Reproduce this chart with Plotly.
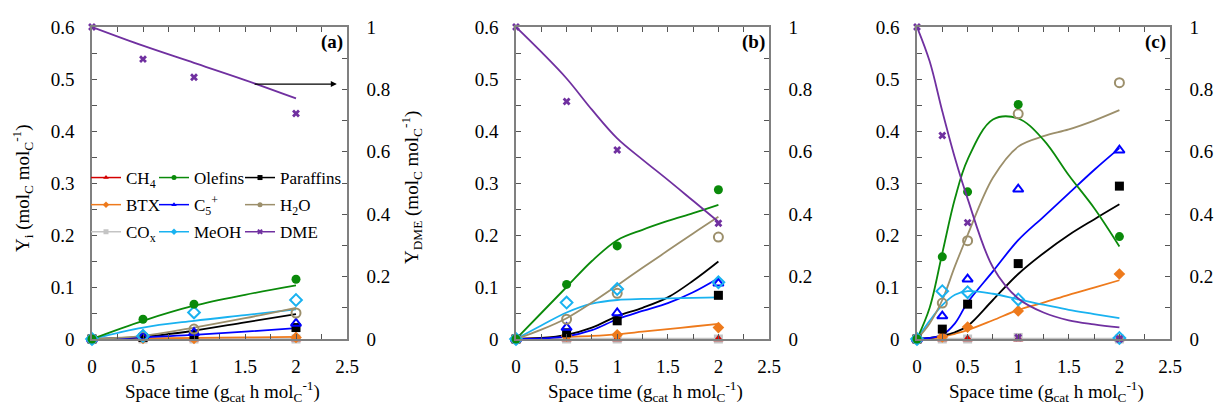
import plotly.graph_objects as go

W, H = 1221, 407
FONT = "Liberation Serif, Times New Roman, DejaVu Serif, serif"

# ---------------- species / styles ----------------
SPECIES = ["CH4", "Olefins", "Paraffins", "BTX", "C5+", "H2O", "COx", "MeOH", "DME"]
LABELS = {"CH4": "CH<sub>4</sub>", "Olefins": "Olefins", "Paraffins": "Paraffins",
          "BTX": "BTX", "C5+": "C<sub>5</sub><sup>+</sup>", "H2O": "H<sub>2</sub>O",
          "COx": "CO<sub>x</sub>", "MeOH": "MeOH", "DME": "DME"}
COLORS = {"CH4": "#d40000", "Olefins": "#0a8a0a", "Paraffins": "#000000",
          "BTX": "#ee7a1c", "C5+": "#0000ff", "H2O": "#9c8f6b",
          "COx": "#c4c4c4", "MeOH": "#19b2f0", "DME": "#7030a0"}
SYMBOLS = {"CH4": "triangle-up", "Olefins": "circle", "Paraffins": "square",
           "BTX": "diamond", "C5+": "triangle-up-open", "H2O": "circle-open",
           "COx": "square", "MeOH": "diamond-open", "DME": "x"}

# ---------------- panel (a) ----------------
A_T_EXP = [0, 0.5, 1, 2]
A_CH4_EXP = [0, 0, 0, 0]
A_OLEF_EXP = [0, 0.038, 0.067, 0.115]
A_PARA_EXP = [0, 0.003, 0.008, 0.022]
A_BTX_EXP = [0, 0.001, 0.001, 0.003]
A_C5_EXP = [0, 0.004, 0.012, 0.030]
A_H2O_EXP = [0, 0.005, 0.019, 0.050]
A_COX_EXP = [0, 0, 0, 0]
A_MEOH_EXP = [0, 0.006, 0.051, 0.075]
A_DME_EXP = [1.0, 0.897, 0.839, 0.723]

A_T_MOD = [0, 0.5, 1, 1.5, 2]
A_CH4_MOD = [0, 0, 0, 0, 0]
A_OLEF_MOD = [0, 0.035, 0.064, 0.085, 0.103]
A_PARA_MOD = [0, 0.004, 0.016, 0.032, 0.048]
A_BTX_MOD = [0, 0.001, 0.002, 0.003, 0.004]
A_C5_MOD = [0, 0.003, 0.008, 0.014, 0.021]
A_H2O_MOD = [0, 0.006, 0.022, 0.040, 0.060]
A_COX_MOD = [0, 0, 0, 0, 0]
A_MEOH_MOD = [0, 0.022, 0.035, 0.046, 0.057]
A_DME_MOD = [1.0, 0.94, 0.885, 0.83, 0.771]

# ---------------- panel (b) ----------------
B_T_EXP = [0, 0.5, 1, 2]
B_CH4_EXP = [0, 0, 0, 0]
B_OLEF_EXP = [0, 0.105, 0.179, 0.287]
B_PARA_EXP = [0, 0.012, 0.035, 0.084]
B_BTX_EXP = [0, 0.006, 0.008, 0.022]
B_C5_EXP = [0, 0.022, 0.050, 0.107]
B_H2O_EXP = [0, 0.038, 0.088, 0.196]
B_COX_EXP = [0, 0, 0, 0]
B_MEOH_EXP = [0, 0.070, 0.096, 0.109]
B_DME_EXP = [1.0, 0.761, 0.606, 0.371]

B_T_MOD = [0, 0.25, 0.5, 0.75, 1, 1.25, 1.5, 1.75, 2]
B_CH4_MOD = [0, 0, 0, 0, 0, 0, 0, 0, 0]
B_OLEF_MOD = [0, 0.05, 0.10, 0.15, 0.19, 0.21, 0.227, 0.242, 0.258]
B_PARA_MOD = [0, 0.002, 0.008, 0.022, 0.044, 0.060, 0.080, 0.112, 0.149]
B_BTX_MOD = [0, 0.002, 0.004, 0.006, 0.009, 0.014, 0.019, 0.024, 0.029]
B_C5_MOD = [0, 0.001, 0.005, 0.017, 0.038, 0.054, 0.069, 0.090, 0.117]
B_H2O_MOD = [0, 0.018, 0.040, 0.070, 0.103, 0.137, 0.170, 0.203, 0.235]
B_COX_MOD = [0, 0, 0, 0, 0, 0, 0, 0, 0]
B_MEOH_MOD = [0, 0.026, 0.051, 0.068, 0.075, 0.077, 0.078, 0.079, 0.080]
B_DME_MOD = [1.0, 0.92, 0.835, 0.735, 0.643, 0.575, 0.51, 0.443, 0.376]

# ---------------- panel (c) ----------------
C_T_EXP = [0, 0.25, 0.5, 1, 2]
C_CH4_EXP = [0, 0, 0, 0, 0]
C_OLEF_EXP = [0, 0.158, 0.283, 0.451, 0.197]
C_PARA_EXP = [0, 0.019, 0.067, 0.145, 0.294]
C_BTX_EXP = [0, 0.004, 0.023, 0.054, 0.125]
C_C5_EXP = [0, 0.044, 0.115, 0.288, 0.363]
C_H2O_EXP = [0, 0.069, 0.189, 0.433, 0.493]
C_COX_EXP = [0, 0, 0, 0.003, 0]
C_MEOH_EXP = [0, 0.092, 0.090, 0.076, 0.002]
C_DME_EXP = [1.0, 0.652, 0.373, 0.005, 0]

C_T_MOD = [0, 0.125, 0.25, 0.375, 0.5, 0.75, 1, 1.25, 1.5, 1.75, 2]
C_CH4_MOD = [0] * 11
C_OLEF_MOD = [0, 0.06, 0.165, 0.27, 0.345, 0.422, 0.424, 0.383, 0.315, 0.252, 0.178]
C_PARA_MOD = [0, 0.002, 0.006, 0.013, 0.025, 0.075, 0.125, 0.165, 0.200, 0.230, 0.259]
C_BTX_MOD = [0, 0.001, 0.004, 0.010, 0.017, 0.036, 0.056, 0.070, 0.085, 0.099, 0.113]
C_C5_MOD = [0, 0.002, 0.008, 0.030, 0.070, 0.130, 0.190, 0.235, 0.280, 0.325, 0.367]
C_H2O_MOD = [0, 0.030, 0.075, 0.140, 0.200, 0.310, 0.370, 0.390, 0.403, 0.420, 0.440]
C_COX_MOD = [0] * 11
C_MEOH_MOD = [0, 0.035, 0.065, 0.085, 0.092, 0.087, 0.076, 0.066, 0.056, 0.048, 0.040]
C_DME_MOD = [1.0, 0.89, 0.73, 0.58, 0.45, 0.23, 0.13, 0.085, 0.06, 0.047, 0.037]

X_TICKS = [0, 0.5, 1, 1.5, 2, 2.5]
PANEL_LABELS = ["(a)", "(b)", "(c)"]

PANELS = [
    dict(t_exp=A_T_EXP, t_mod=A_T_MOD,
         exp={"CH4": A_CH4_EXP, "Olefins": A_OLEF_EXP, "Paraffins": A_PARA_EXP, "BTX": A_BTX_EXP,
              "C5+": A_C5_EXP, "H2O": A_H2O_EXP, "COx": A_COX_EXP, "MeOH": A_MEOH_EXP, "DME": A_DME_EXP},
         mod={"CH4": A_CH4_MOD, "Olefins": A_OLEF_MOD, "Paraffins": A_PARA_MOD, "BTX": A_BTX_MOD,
              "C5+": A_C5_MOD, "H2O": A_H2O_MOD, "COx": A_COX_MOD, "MeOH": A_MEOH_MOD, "DME": A_DME_MOD}),
    dict(t_exp=B_T_EXP, t_mod=B_T_MOD,
         exp={"CH4": B_CH4_EXP, "Olefins": B_OLEF_EXP, "Paraffins": B_PARA_EXP, "BTX": B_BTX_EXP,
              "C5+": B_C5_EXP, "H2O": B_H2O_EXP, "COx": B_COX_EXP, "MeOH": B_MEOH_EXP, "DME": B_DME_EXP},
         mod={"CH4": B_CH4_MOD, "Olefins": B_OLEF_MOD, "Paraffins": B_PARA_MOD, "BTX": B_BTX_MOD,
              "C5+": B_C5_MOD, "H2O": B_H2O_MOD, "COx": B_COX_MOD, "MeOH": B_MEOH_MOD, "DME": B_DME_MOD}),
    dict(t_exp=C_T_EXP, t_mod=C_T_MOD,
         exp={"CH4": C_CH4_EXP, "Olefins": C_OLEF_EXP, "Paraffins": C_PARA_EXP, "BTX": C_BTX_EXP,
              "C5+": C_C5_EXP, "H2O": C_H2O_EXP, "COx": C_COX_EXP, "MeOH": C_MEOH_EXP, "DME": C_DME_EXP},
         mod={"CH4": C_CH4_MOD, "Olefins": C_OLEF_MOD, "Paraffins": C_PARA_MOD, "BTX": C_BTX_MOD,
              "C5+": C_C5_MOD, "H2O": C_H2O_MOD, "COx": C_COX_MOD, "MeOH": C_MEOH_MOD, "DME": C_DME_MOD}),
]


def px(x):
    return x / W


def py(y):
    return (H - y) / H


# plot frames in pixels (left, right) and shared top/bottom
FRAMES = [(92, 347), (516, 769), (917, 1170)]
TOP, BOTTOM = 27, 339

fig = go.Figure()

LINE_ORDER = ["CH4", "COx", "BTX", "Paraffins", "C5+", "MeOH", "H2O", "Olefins", "DME"]
MARK_ORDER = ["COx", "CH4", "BTX", "Paraffins", "C5+", "H2O", "MeOH", "Olefins", "DME"]

for i, p in enumerate(PANELS):
    n = "" if i == 0 else str(2 * i + 1)
    n2 = str(2 * i + 2)
    xa = "x" + ("" if i == 0 else str(i + 1))
    ya_l = "y" + n
    ya_r = "y" + n2
    for s in LINE_ORDER:
        fig.add_trace(go.Scatter(
            x=p["t_mod"], y=p["mod"][s], mode="lines",
            line=dict(color=COLORS[s], width=2.4 if s == "COx" else 1.8, shape="spline", smoothing=1.0),
            xaxis=xa, yaxis=ya_r if s == "DME" else ya_l, showlegend=False, cliponaxis=False,
            hoverinfo="skip"))
    for s in MARK_ORDER:
        open_ = SYMBOLS[s].endswith("open")
        fig.add_trace(go.Scatter(
            x=p["t_exp"], y=p["exp"][s], mode="markers",
            marker=dict(symbol=SYMBOLS[s], color=COLORS[s],
                        size=9 if s != "DME" else 7,
                        line=dict(color=COLORS[s], width=2 if open_ else 0)),
            xaxis=xa, yaxis=ya_r if s == "DME" else ya_l, showlegend=False, cliponaxis=False))

# legend-only entries (three columns in panel a)
LEG_COLS = [["CH4", "BTX", "COx"], ["Olefins", "C5+", "MeOH"], ["Paraffins", "H2O", "DME"]]
for ci, col in enumerate(LEG_COLS):
    lname = "legend" if ci == 0 else "legend" + str(ci + 1)
    for s in col:
        fig.add_trace(go.Scatter(
            x=[None], y=[None], mode="lines+markers", name=LABELS[s],
            line=dict(color=COLORS[s], width=1.5),
            marker=dict(symbol=SYMBOLS[s].replace("-open", ""), color=COLORS[s], size=5),
            legend=lname, legendgroup=s, xaxis="x", yaxis="y"))

axis_common = dict(
    showline=True, linecolor="#808080", linewidth=1.5,
    ticks="inside", ticklen=5, tickcolor="#555555", tickwidth=1,
    showgrid=False, zeroline=False, automargin=False,
    tickfont=dict(family=FONT, size=19, color="black"),
)

layout = dict(
    width=W, height=H,
    margin=dict(l=0, r=0, t=0, b=0),
    paper_bgcolor="white", plot_bgcolor="rgba(0,0,0,0)",
    font=dict(family=FONT, size=18, color="black"),
)

annotations = []
for i, (l, r) in enumerate(FRAMES):
    sx = "" if i == 0 else str(i + 1)
    nl = "" if i == 0 else str(2 * i + 1)
    nr = str(2 * i + 2)
    layout["xaxis" + sx] = dict(
        axis_common, domain=[px(l), px(r)], range=[0, 2.5], tickvals=X_TICKS,
        minor=dict(dtick=0.25, ticks="inside", ticklen=5, tickcolor="#555555"),
        mirror="ticks", anchor="y" + nl, ticklabelstandoff=9)
    layout["yaxis" + nl] = dict(
        axis_common, domain=[py(BOTTOM), py(TOP)], range=[0, 0.6], dtick=0.1,
        minor=dict(dtick=0.05, ticks="inside", ticklen=5, tickcolor="#555555"),
        anchor="x" + sx, ticklabelstandoff=12)
    layout["yaxis" + nr] = dict(
        axis_common, domain=[py(BOTTOM), py(TOP)], range=[0, 1], dtick=0.2,
        minor=dict(dtick=0.1, ticks="inside", ticklen=5, tickcolor="#555555"),
        overlaying="y" + nl, side="right", anchor="x" + sx, ticklabelstandoff=14)
    annotations.append(dict(
        text="Space time (g<sub>cat</sub> h mol<sub>C</sub><sup>-1</sup>)",
        xref="paper", yref="paper", x=px((l + r) / 2 + 3), y=py(391),
        xanchor="center", yanchor="middle", showarrow=False,
        font=dict(family=FONT, size=19)))
    annotations.append(dict(
        text="<b>" + PANEL_LABELS[i] + "</b>", xref="paper", yref="paper",
        x=px(r - 2), y=py(42), xanchor="right", yanchor="middle", showarrow=False,
        font=dict(family=FONT, size=19)))

annotations.append(dict(
    text="Y<sub>i</sub> (mol<sub>C</sub> mol<sub>C</sub><sup>-1</sup>)", textangle=-90,
    xref="paper", yref="paper", x=px(22), y=py(188), xanchor="center", yanchor="middle",
    showarrow=False, font=dict(family=FONT, size=19)))
annotations.append(dict(
    text="Y<sub>DME</sub> (mol<sub>C</sub> mol<sub>C</sub><sup>-1</sup>)", textangle=-90,
    xref="paper", yref="paper", x=px(411), y=py(188), xanchor="center", yanchor="middle",
    showarrow=False, font=dict(family=FONT, size=19)))
# arrow pointing to the right axis in panel (a)
annotations.append(dict(
    x=2.4, y=0.817, xref="x", yref="y2", ax=1.58, ay=0.817, axref="x", ayref="y2",
    text="", showarrow=True, arrowhead=2, arrowsize=1, arrowwidth=1.2, arrowcolor="black"))
layout["annotations"] = annotations

legend_common = dict(
    bgcolor="rgba(0,0,0,0)", borderwidth=0, orientation="v",
    xanchor="left", yanchor="top", tracegroupgap=2,
    font=dict(family=FONT, size=17, color="black"), itemwidth=30)
layout["legend"] = dict(legend_common, x=px(86), y=py(160))
layout["legend2"] = dict(legend_common, x=px(154), y=py(160))
layout["legend3"] = dict(legend_common, x=px(240), y=py(160))

fig.update_layout(**layout)
fig.write_html("out.html")
